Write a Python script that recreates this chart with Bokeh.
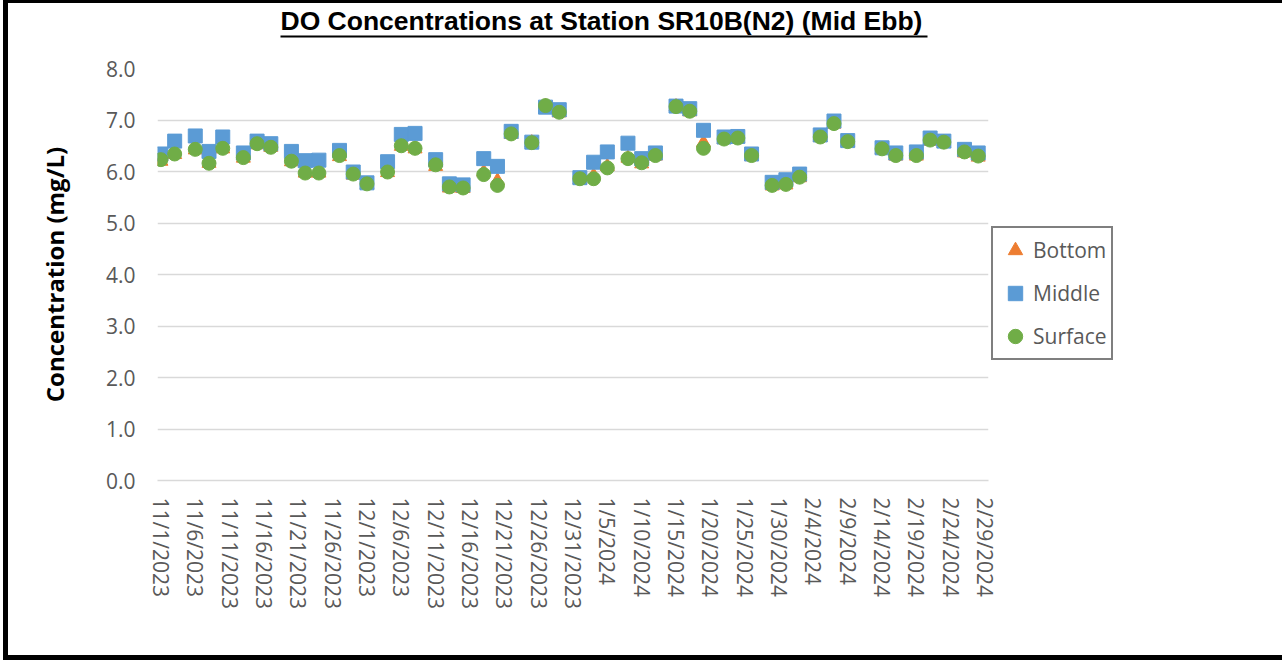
import math
import pandas as pd
from bokeh.plotting import figure
from bokeh.models import (Range1d, FixedTicker, NumeralTickFormatter, Legend,
                          LegendItem, ColorBar, LinearColorMapper)
from bokeh.embed import file_html
from bokeh.resources import INLINE

title_text = "DO Concentrations at Station SR10B(N2) (Mid Ebb)"
y_label = "Concentration (mg/L)"

dates = [
    "11/1/2023", "11/3/2023", "11/6/2023", "11/8/2023", "11/10/2023", "11/13/2023",
    "11/15/2023", "11/17/2023", "11/20/2023", "11/22/2023", "11/24/2023", "11/27/2023",
    "11/29/2023", "12/1/2023", "12/4/2023", "12/6/2023", "12/8/2023", "12/11/2023",
    "12/13/2023", "12/15/2023", "12/18/2023", "12/20/2023", "12/22/2023", "12/25/2023",
    "12/27/2023", "12/29/2023", "1/1/2024", "1/3/2024", "1/5/2024", "1/8/2024",
    "1/10/2024", "1/12/2024", "1/15/2024", "1/17/2024", "1/19/2024", "1/22/2024",
    "1/24/2024", "1/26/2024", "1/29/2024", "1/31/2024", "2/2/2024", "2/5/2024",
    "2/7/2024", "2/9/2024", "2/14/2024", "2/16/2024", "2/19/2024", "2/21/2024",
    "2/23/2024", "2/26/2024", "2/28/2024",
]

bottom = [
    6.20, 6.33, 6.42, 6.16, 6.44, 6.26, 6.52, 6.47, 6.19, 5.97, 5.97, 6.29,
    5.93, 5.74, 5.98, 6.49, 6.44, 6.10, 5.68, 5.67, 5.99, 5.82, 6.72, 6.56,
    7.26, 7.14, 5.84, 5.92, 6.10, 6.26, 6.15, 6.30, 7.26, 7.16, 6.56, 6.62,
    6.64, 6.29, 5.72, 5.74, 5.88, 6.66, 6.92, 6.57, 6.42, 6.30, 6.30, 6.59,
    6.55, 6.36, 6.28,
]

middle = [
    6.34, 6.59, 6.69, 6.39, 6.67, 6.36, 6.59, 6.54, 6.39, 6.21, 6.22, 6.41,
    5.99, 5.78, 6.19, 6.72, 6.74, 6.23, 5.76, 5.74, 6.25, 6.10, 6.78, 6.57,
    7.25, 7.20, 5.88, 6.18, 6.38, 6.55, 6.25, 6.36, 7.27, 7.22, 6.80, 6.67,
    6.68, 6.34, 5.79, 5.84, 5.95, 6.71, 6.98, 6.60, 6.46, 6.36, 6.38, 6.65,
    6.59, 6.43, 6.36,
]

surface = [
    6.23, 6.34, 6.43, 6.16, 6.45, 6.27, 6.54, 6.47, 6.20, 5.97, 5.97, 6.31,
    5.95, 5.76, 5.99, 6.50, 6.45, 6.13, 5.70, 5.68, 5.94, 5.73, 6.73, 6.56,
    7.28, 7.15, 5.86, 5.86, 6.07, 6.25, 6.17, 6.31, 7.26, 7.17, 6.45, 6.63,
    6.65, 6.31, 5.73, 5.75, 5.89, 6.67, 6.93, 6.58, 6.44, 6.31, 6.31, 6.61,
    6.57, 6.38, 6.30,
]

tick_labels = [
    "11/1/2023", "11/6/2023", "11/11/2023", "11/16/2023", "11/21/2023", "11/26/2023",
    "12/1/2023", "12/6/2023", "12/11/2023", "12/16/2023", "12/21/2023", "12/26/2023",
    "12/31/2023", "1/5/2024", "1/10/2024", "1/15/2024", "1/20/2024", "1/25/2024",
    "1/30/2024", "2/4/2024", "2/9/2024", "2/14/2024", "2/19/2024", "2/24/2024",
    "2/29/2024",
]

y_ticks = [0, 1, 2, 3, 4, 5, 6, 7, 8]

series_names = ["Bottom", "Middle", "Surface"]

# ---- convert dates to day offsets ----
origin = pd.to_datetime(tick_labels[0], format="%m/%d/%Y")


def day(s):
    return int((pd.to_datetime(s, format="%m/%d/%Y") - origin).days)


x = [day(d) for d in dates]
tick_pos = [day(t) for t in tick_labels]

GRAY = "#595959"

p = figure(frame_width=831, frame_height=412, output_backend="svg",
           toolbar_location=None, title=None,
           x_range=Range1d(tick_pos[0] - 0.5, tick_pos[-1] + 0.5),
           y_range=Range1d(y_ticks[0], y_ticks[-1]),
           min_border_left=149, min_border_top=65,
           min_border_right=286, min_border_bottom=175)
p.margin = (3, 8, 8, 8)
p.styles = {"outline": "5px solid black"}
p.outline_line_color = None
p.background_fill_color = "white"
p.border_fill_color = "white"

# grid
p.xgrid.visible = False
p.ygrid.ticker = FixedTicker(ticks=y_ticks)
p.ygrid.grid_line_color = "#D9D9D9"
p.ygrid.grid_line_width = 1.3

# y axis
p.yaxis.ticker = FixedTicker(ticks=y_ticks)
p.yaxis.formatter = NumeralTickFormatter(format="0.0")
p.yaxis.axis_line_color = None
p.yaxis.major_tick_line_color = None
p.yaxis.minor_tick_line_color = None
p.yaxis.major_tick_out = 0
p.yaxis.major_label_standoff = 22
p.yaxis.major_label_text_font = "Open Sans"
p.yaxis.major_label_text_font_size = "21px"
p.yaxis.major_label_text_color = GRAY
p.yaxis.axis_label = y_label
p.yaxis.axis_label_text_font = "Open Sans"
p.yaxis.axis_label_text_font_style = "bold"
p.yaxis.axis_label_text_font_size = "24px"
p.yaxis.axis_label_text_color = "black"
p.yaxis.axis_label_standoff = 32

# x axis
p.xaxis.ticker = FixedTicker(ticks=tick_pos)
p.xaxis.major_label_overrides = {pos: lab for pos, lab in zip(tick_pos, tick_labels)}
p.xaxis.major_label_orientation = -math.pi / 2
p.xaxis.axis_line_color = "#D9D9D9"
p.xaxis.axis_line_width = 1.3
p.xaxis.major_tick_line_color = None
p.xaxis.minor_tick_line_color = None
p.xaxis.major_tick_out = 0
p.xaxis.major_label_standoff = 17
p.xaxis.major_label_text_font = "Open Sans"
p.xaxis.major_label_text_font_size = "21px"
p.xaxis.major_label_text_color = GRAY

# data
rb = p.scatter(x, bottom, marker="triangle", size=14,
               fill_color="#ED7D31", line_color="#ED7D31")
rm = p.scatter(x, middle, marker="square", size=14,
               fill_color="#5B9BD5", line_color="#5B9BD5")
rs = p.scatter(x, surface, marker="circle", size=14,
               fill_color="#70AD47", line_color="#70AD47")

legend = Legend(items=[LegendItem(label=series_names[0], renderers=[rb]),
                       LegendItem(label=series_names[1], renderers=[rm]),
                       LegendItem(label=series_names[2], renderers=[rs])],
                location=(3, 120))
legend.border_line_color = "black"
legend.border_line_width = 2
legend.background_fill_color = "white"
legend.background_fill_alpha = 1
legend.label_text_font = "Open Sans"
legend.label_text_font_size = "21px"
legend.label_text_color = GRAY
legend.glyph_width = 36
legend.glyph_height = 36
legend.label_height = 36
legend.spacing = 7
legend.padding = 4
legend.margin = 5
legend.label_standoff = 0
p.add_layout(legend, "right")

# underlined title: a colour bar whose bar is the underline
title_bar = ColorBar(
    color_mapper=LinearColorMapper(palette=["#000000"], low=0, high=1),
    orientation="horizontal", width=647, height=2, location=(123, 31),
    title=title_text, title_text_font="Liberation Sans",
    title_text_font_style="bold", title_text_font_size="26.5px",
    title_text_color="black", title_standoff=0,
    ticker=FixedTicker(ticks=[]), major_tick_out=0, major_tick_in=0,
    major_tick_line_color=None, minor_tick_line_color=None,
    major_label_text_font_size="1px", bar_line_color=None,
    border_line_color=None, background_fill_color=None,
    padding=0, margin=0, scale_alpha=1.0)
p.add_layout(title_bar, "above")

open("out.html", "w").write(file_html(p, INLINE))
